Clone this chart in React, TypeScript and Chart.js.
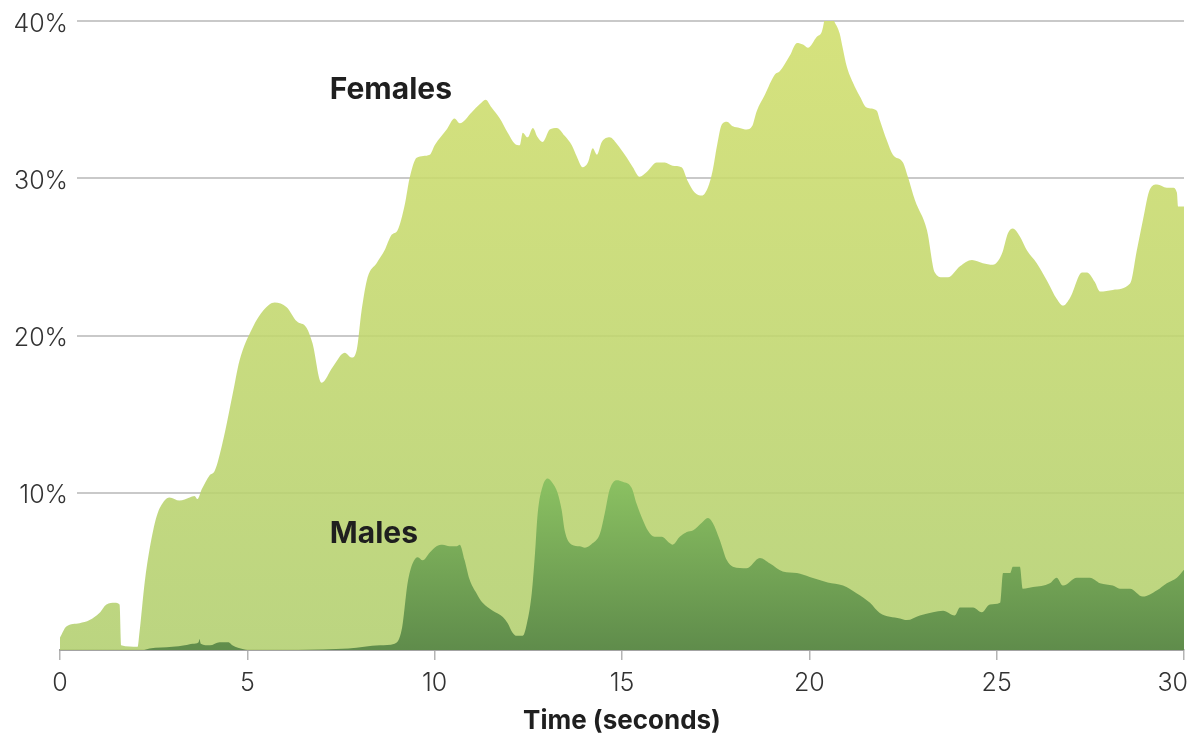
import { useEffect, useRef } from 'react';
import { Chart, registerables } from 'chart.js';

Chart.register(...registerables);

// ---- data (time in seconds, share in %) ----
const femaleTime = [
  0, 0.17, 0.52, 0.79, 1.05, 1.24, 1.46, 1.59, 1.63, 2.07,
  2.12, 2.26, 2.39, 2.58, 2.79, 2.92, 3.19, 3.46, 3.59, 3.67,
  3.78, 3.99, 4.13, 4.34, 4.61, 4.79, 5.14, 5.43, 5.73, 6.05,
  6.32, 6.58, 6.74, 6.98, 7.28, 7.6, 7.78, 7.92, 8.05, 8.21,
  8.45, 8.66, 8.85, 9.01, 9.2, 9.33, 9.52, 9.87, 10.0, 10.32,
  10.53, 10.67, 10.99, 11.2, 11.36, 11.52, 11.74, 11.95, 12.14, 12.27,
  12.35, 12.48, 12.62, 12.75, 12.88, 13.07, 13.26, 13.47, 13.66, 13.79,
  13.95, 14.09, 14.22, 14.33, 14.46, 14.67, 14.86, 15.13, 15.29, 15.47,
  15.66, 15.93, 16.14, 16.35, 16.59, 16.76, 16.94, 17.13, 17.29, 17.42,
  17.53, 17.66, 17.8, 17.96, 18.14, 18.33, 18.47, 18.6, 18.81, 19.08,
  19.21, 19.48, 19.67, 19.83, 19.96, 20.2, 20.33, 20.47, 20.55, 20.68,
  20.81, 20.89, 21.0, 21.16, 21.35, 21.53, 21.8, 21.88, 22.07, 22.23,
  22.5, 22.63, 22.82, 23.14, 23.35, 23.56, 23.7, 24.02, 24.34, 24.63,
  24.9, 25.14, 25.3, 25.43, 25.62, 25.81, 26.07, 26.34, 26.61, 26.77,
  26.96, 27.28, 27.41, 27.62, 27.76, 28.1, 28.56, 28.74, 28.9, 29.09,
  29.28, 29.54, 29.7, 29.81, 29.84, 30.0,
];
const femaleShare = [
  0.8, 1.5, 1.7, 1.9, 2.35, 2.9, 3.0, 2.9, 0.3, 0.2,
  1.1, 4.3, 6.4, 8.5, 9.5, 9.7, 9.5, 9.7, 9.8, 9.6,
  10.2, 11.1, 11.4, 13.2, 16.3, 18.4, 20.5, 21.6, 22.1, 21.8,
  20.9, 20.5, 19.5, 17.0, 18.0, 18.9, 18.6, 19.1, 21.6, 23.7,
  24.6, 25.4, 26.4, 26.7, 28.3, 30.0, 31.3, 31.5, 32.1, 33.1,
  33.8, 33.5, 34.2, 34.7, 35.0, 34.5, 33.8, 32.9, 32.2, 32.1,
  32.9, 32.6, 33.2, 32.6, 32.3, 33.1, 33.2, 32.7, 32.1, 31.4,
  30.7, 31.0, 31.9, 31.5, 32.3, 32.6, 32.2, 31.3, 30.7, 30.1,
  30.4, 31.0, 31.0, 30.8, 30.7, 29.8, 29.1, 28.9, 29.4, 30.5,
  32.0, 33.4, 33.6, 33.3, 33.2, 33.1, 33.3, 34.3, 35.3, 36.6,
  36.8, 37.8, 38.6, 38.5, 38.3, 39.0, 39.3, 40.6, 40.4, 39.9,
  39.2, 38.3, 37.1, 36.1, 35.2, 34.5, 34.3, 33.7, 32.4, 31.5,
  31.0, 30.1, 28.6, 26.7, 24.0, 23.7, 23.7, 24.4, 24.8, 24.6,
  24.5, 25.2, 26.5, 26.8, 26.3, 25.4, 24.6, 23.5, 22.3, 21.9,
  22.4, 24.0, 24.0, 23.4, 22.8, 22.9, 23.3, 25.4, 27.3, 29.3,
  29.6, 29.4, 29.4, 29.1, 28.2, 28.2,
];

const maleTime = [
  0, 2.2, 2.39, 3.0, 3.33, 3.54, 3.7, 3.72, 3.76, 4.0,
  4.26, 4.5, 4.6, 4.9, 5.0, 7.7, 8.54, 8.93, 9.12, 9.28,
  9.41, 9.55, 9.68, 9.87, 10.05, 10.21, 10.4, 10.59, 10.67, 10.8,
  10.93, 11.12, 11.28, 11.55, 11.82, 11.95, 12.08, 12.19, 12.35, 12.48,
  12.59, 12.67, 12.75, 12.88, 13.02, 13.15, 13.28, 13.39, 13.47, 13.66,
  13.87, 14.01, 14.22, 14.41, 14.54, 14.67, 14.86, 15.02, 15.26, 15.39,
  15.55, 15.69, 15.87, 16.06, 16.27, 16.35, 16.54, 16.73, 16.89, 17.13,
  17.29, 17.42, 17.61, 17.8, 17.96, 18.33, 18.68, 18.95, 19.29, 19.67,
  20.01, 20.49, 20.9, 21.27, 21.62, 21.88, 22.42, 22.6, 22.95, 23.3,
  23.57, 23.88, 24.02, 24.37, 24.6, 24.82, 25.09, 25.17, 25.36, 25.43,
  25.62, 25.7, 25.97, 26.42, 26.6, 26.77, 27.14, 27.49, 27.76, 28.1,
  28.29, 28.56, 28.9, 29.28, 29.54, 29.81, 30.0,
];
const maleShare = [
  0, 0, 0.1, 0.2, 0.3, 0.4, 0.5, 0.7, 0.4, 0.3,
  0.5, 0.5, 0.3, 0.05, 0, 0.1, 0.3, 0.4, 1.3, 4.3,
  5.5, 5.9, 5.7, 6.2, 6.6, 6.7, 6.6, 6.6, 6.7, 5.7,
  4.5, 3.6, 3.0, 2.5, 2.1, 1.7, 1.1, 0.9, 0.9, 1.9,
  3.6, 5.9, 8.7, 10.4, 10.9, 10.6, 10.0, 8.9, 7.6, 6.7,
  6.6, 6.5, 6.8, 7.4, 8.7, 10.2, 10.8, 10.7, 10.3, 9.3,
  8.3, 7.6, 7.2, 7.2, 6.8, 6.7, 7.2, 7.5, 7.6, 8.1,
  8.4, 8.1, 7.0, 5.7, 5.3, 5.2, 5.85, 5.5, 5.0, 4.9,
  4.65, 4.3, 4.1, 3.6, 3.0, 2.35, 2.0, 1.9, 2.2, 2.4,
  2.5, 2.2, 2.7, 2.7, 2.4, 2.9, 3.0, 4.9, 4.9, 5.3,
  5.3, 3.9, 4.0, 4.25, 4.6, 4.1, 4.6, 4.6, 4.25, 4.1,
  3.9, 3.9, 3.4, 3.8, 4.25, 4.6, 5.1,
];

const xTickValues = [0, 5, 10, 15, 20, 25, 30];
const yTickValues = [10, 20, 30, 40];
const seriesNames = ['Females', 'Males'];
const xAxisTitle = 'Time (seconds)';
// label anchors in data coordinates (seconds, %)
const labelAnchorTime = [7.2, 7.2];
const labelAnchorShare = [35.6, 7.4];

const FONT = 'Inter, "Noto Sans", sans-serif';

const decorPlugin = {
  id: 'decor',
  beforeDatasetsDraw(chart: any) {
    const { ctx, chartArea, scales } = chart;
    ctx.save();
    ctx.strokeStyle = '#c9c9c9';
    ctx.lineWidth = 2;
    for (const v of yTickValues) {
      const y = Math.round(scales.y.getPixelForValue(v));
      ctx.beginPath();
      ctx.moveTo(chartArea.left + 17, y);
      ctx.lineTo(chartArea.right, y);
      ctx.stroke();
    }
    ctx.restore();
  },
  afterDraw(chart: any) {
    const { ctx, chartArea, scales } = chart;
    ctx.save();
    // series labels
    ctx.font = `bold 30px ${FONT}`;
    ctx.fillStyle = '#1f1f1f';
    ctx.textAlign = 'left';
    ctx.textBaseline = 'middle';
    seriesNames.forEach((name, i) => {
      ctx.fillText(
        name,
        scales.x.getPixelForValue(labelAnchorTime[i]),
        scales.y.getPixelForValue(labelAnchorShare[i])
      );
    });
    // y tick labels
    ctx.font = `300 25px ${FONT}`;
    ctx.fillStyle = '#333';
    ctx.textAlign = 'right';
    ctx.textBaseline = 'middle';
    for (const v of yTickValues) {
      ctx.fillText(`${v}%`, chartArea.left + 8, scales.y.getPixelForValue(v) + 3);
    }
    // x tick labels (kept inside the canvas)
    ctx.textAlign = 'center';
    for (const v of xTickValues) {
      const label = String(v);
      const w = ctx.measureText(label).width;
      let x = scales.x.getPixelForValue(v);
      x = Math.min(x, chart.width - 5 - w / 2);
      x = Math.max(x, 5 + w / 2);
      ctx.fillText(label, x, chartArea.bottom + 33);
    }
    ctx.restore();
  },
};

export default function App() {
  const canvasRef = useRef<HTMLCanvasElement | null>(null);

  useEffect(() => {
    const canvas = canvasRef.current;
    if (!canvas) return;

    const femaleFill = (c: any) => {
      const { chart } = c;
      const { chartArea } = chart;
      if (!chartArea) return 'rgba(195,220,110,0.88)';
      const g = chart.ctx.createLinearGradient(0, chartArea.top, 0, chartArea.bottom);
      g.addColorStop(0, 'rgba(208,222,107,0.88)');
      g.addColorStop(1, 'rgba(178,207,111,0.88)');
      return g;
    };
    const maleFill = (c: any) => {
      const { chart } = c;
      const { chartArea, scales } = chart;
      if (!chartArea) return '#7aa957';
      const top = scales.y.getPixelForValue(11);
      const g = chart.ctx.createLinearGradient(0, top, 0, chartArea.bottom);
      g.addColorStop(0, '#8cc262');
      g.addColorStop(1, '#5f8c4b');
      return g;
    };

    const chart = new Chart(canvas, {
      type: 'line',
      data: {
        datasets: [
          {
            label: seriesNames[1],
            data: maleTime.map((t, i) => ({ x: t, y: maleShare[i] })),
            backgroundColor: maleFill,
            borderWidth: 0,
            pointRadius: 0,
            fill: 'origin',
            cubicInterpolationMode: 'monotone',
            order: 0,
          },
          {
            label: seriesNames[0],
            data: femaleTime.map((t, i) => ({ x: t, y: femaleShare[i] })),
            backgroundColor: femaleFill,
            borderWidth: 0,
            pointRadius: 0,
            fill: 'origin',
            cubicInterpolationMode: 'monotone',
            order: 1,
          },
        ],
      },
      options: {
        animation: false,
        responsive: false,
        devicePixelRatio: 1,
        events: [],
        layout: { padding: { top: 21, right: 9, bottom: 0, left: 0 } },
        plugins: {
          legend: { display: false },
          tooltip: { enabled: false },
        },
        scales: {
          x: {
            type: 'linear',
            min: 0,
            max: 30,
            z: 1,
            afterBuildTicks: (s: any) => {
              s.ticks = xTickValues.map((v) => ({ value: v }));
            },
            afterFit: (s: any) => {
              s.height = 84;
              s.paddingLeft = 0;
              s.paddingRight = 0;
            },
            ticks: { display: false },
            grid: {
              display: true,
              drawOnChartArea: false,
              drawTicks: true,
              tickLength: 10,
              color: '#b4b4b4',
              lineWidth: 1.5,
            },
            border: { display: true, color: '#a3a3a3', width: 2 },
            title: {
              display: true,
              text: xAxisTitle,
              color: '#1f1f1f',
              font: { family: FONT, size: 26, weight: 'bold' },
              padding: { top: 0, bottom: -3 },
            },
          },
          y: {
            type: 'linear',
            min: 0,
            max: 40,
            afterBuildTicks: (s: any) => {
              s.ticks = yTickValues.map((v) => ({ value: v }));
            },
            afterFit: (s: any) => {
              s.width = 60;
            },
            ticks: { display: false },
            grid: { display: false, drawTicks: false },
            border: { display: false },
          },
        },
      },
      plugins: [decorPlugin],
    } as any);

    return () => chart.destroy();
  }, []);

  return (
    <div style={{ position: 'absolute', left: 0, top: 0, width: 1193, height: 734, background: '#fff' }}>
      <canvas ref={canvasRef} width={1193} height={734} style={{ display: 'block' }} />
    </div>
  );
}
